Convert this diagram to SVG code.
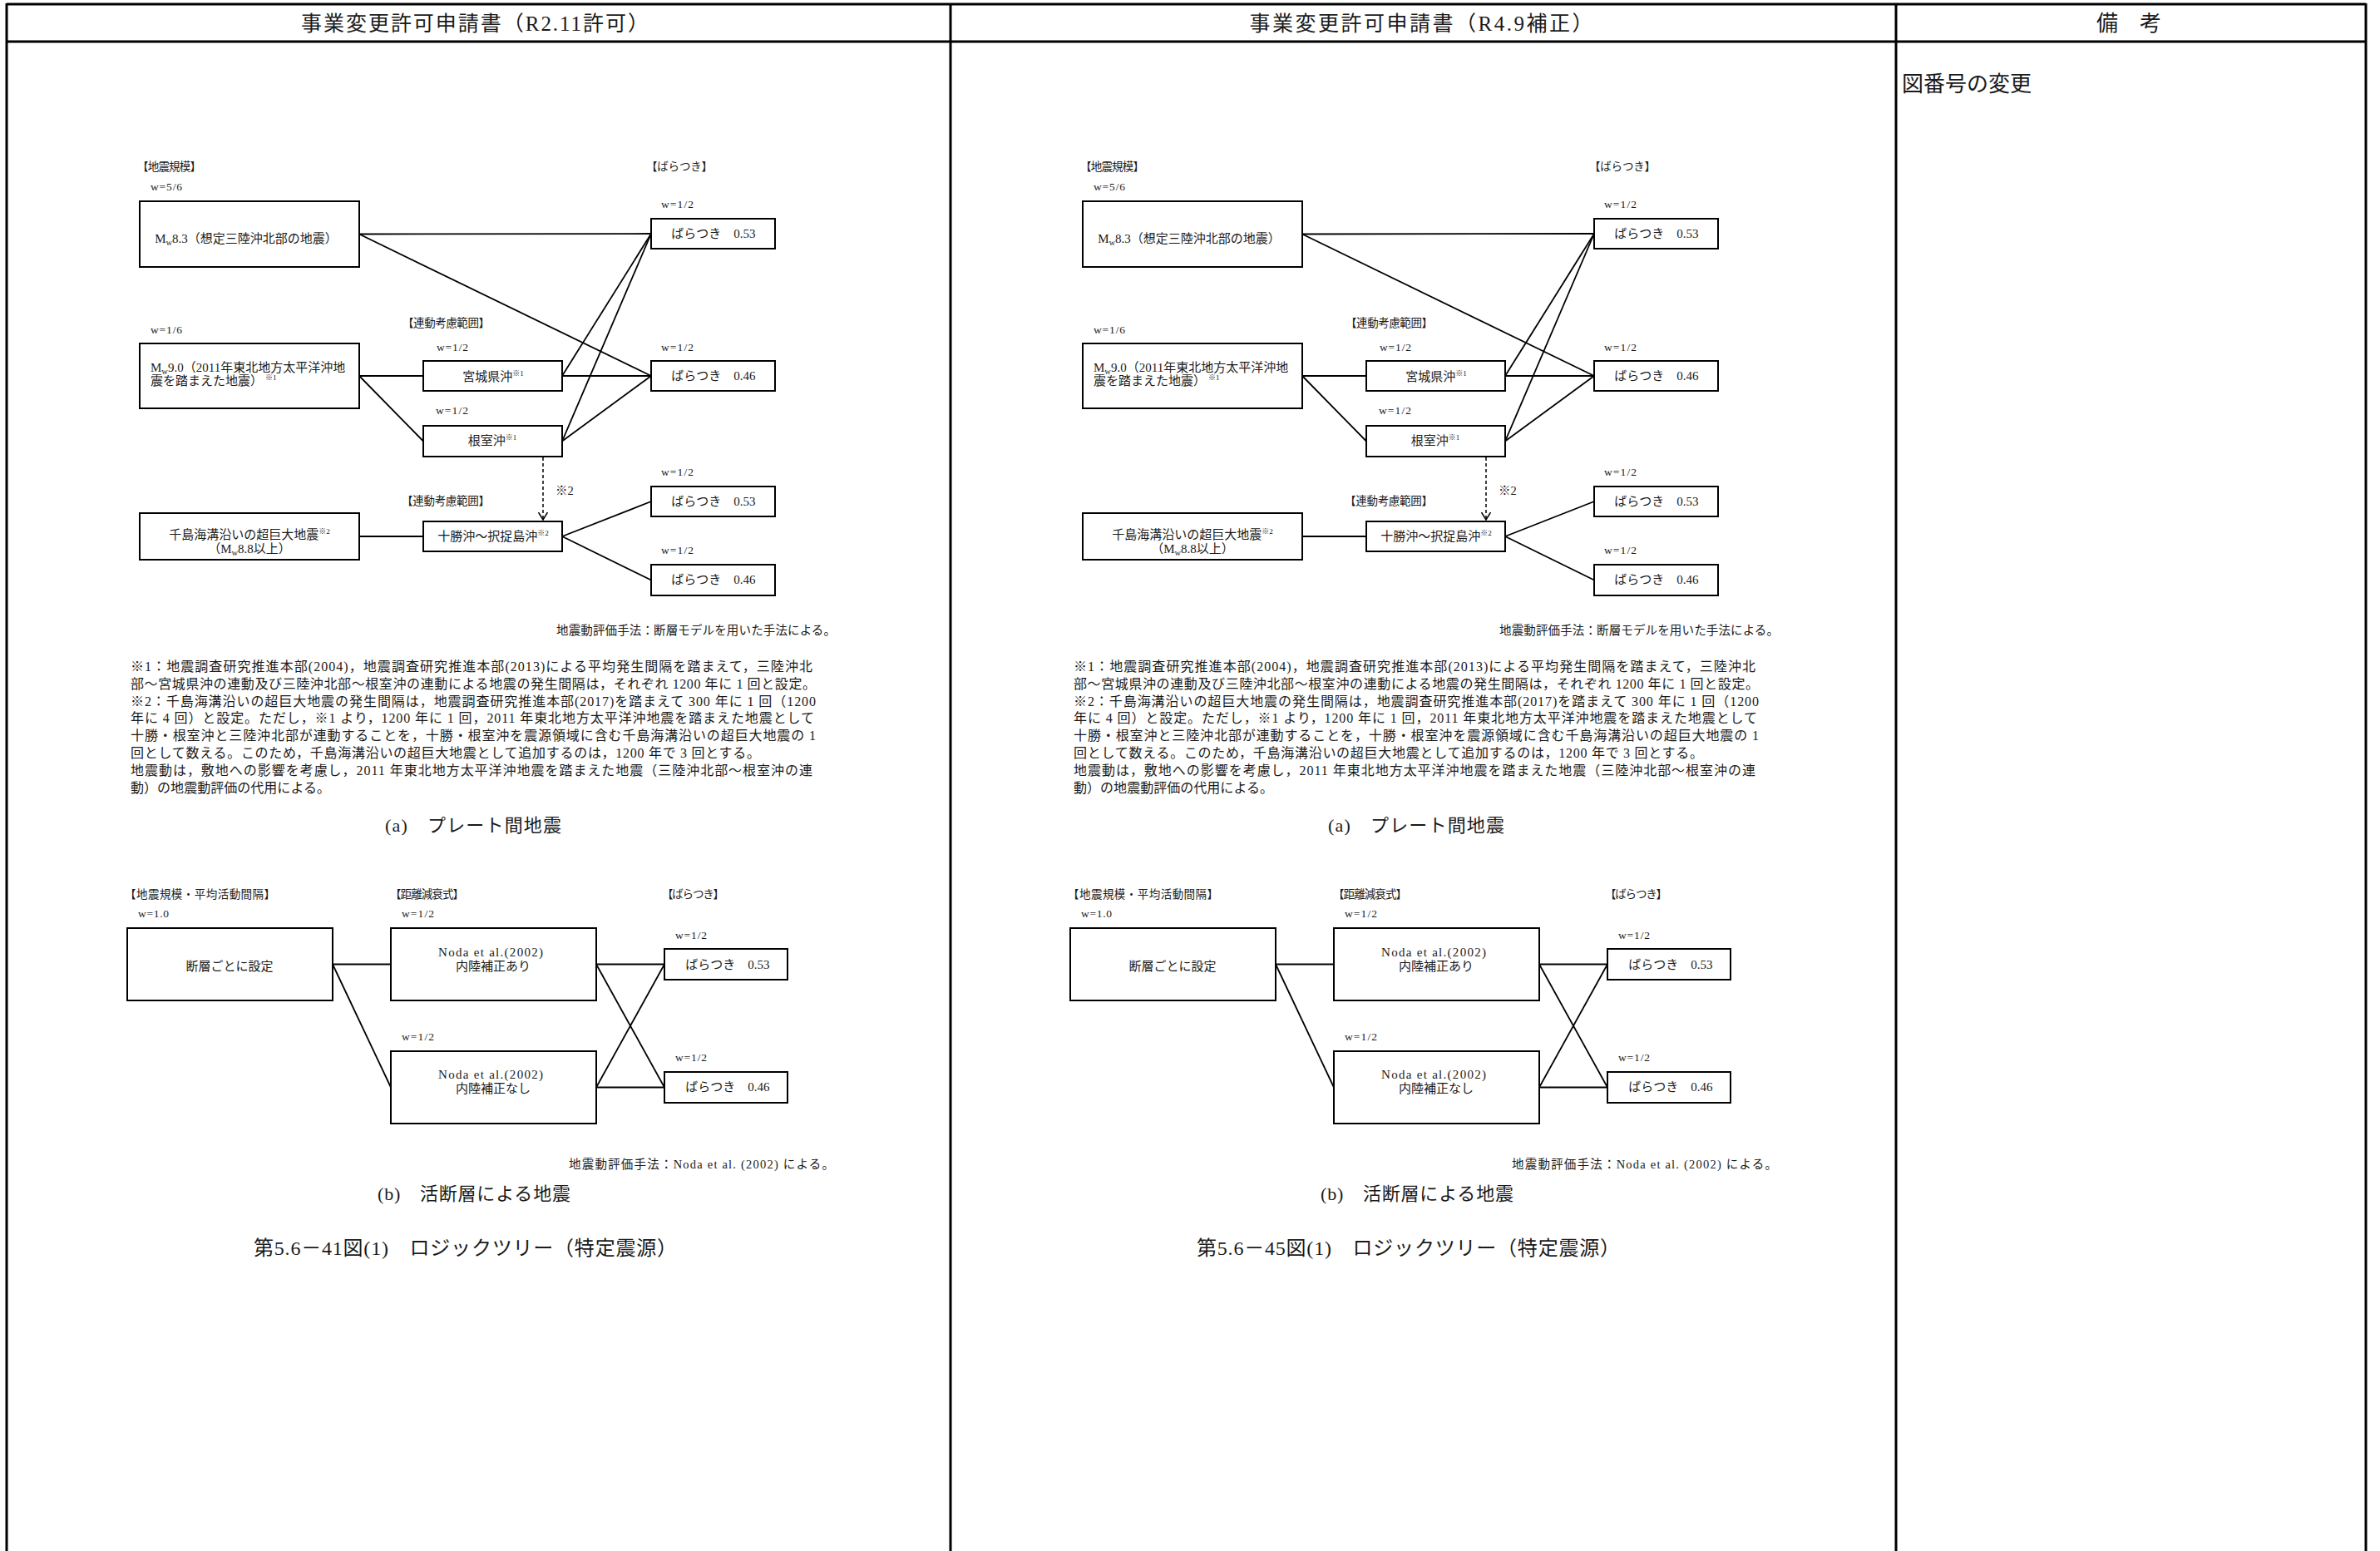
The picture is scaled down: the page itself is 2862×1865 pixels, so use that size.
<svg xmlns="http://www.w3.org/2000/svg" width="2862" height="1865" viewBox="0 0 2862 1865">
<style>
.t{font-family:"Liberation Serif","Noto Sans CJK JP",serif;fill:#1a1a1a}
.f13{font-size:13.5px}
.f14{font-size:14.5px}
.f15{font-size:15px}
.f16{font-size:16px}
.f22{font-size:22px}
.f24{font-size:24px}
.f25{font-size:25px}
.f26{font-size:26px}
.m{text-anchor:middle}
.sub{font-size:10.5px}
.sup{font-size:9px}
.box{fill:#fff;stroke:#000;stroke-width:2}
.ln{stroke:#000;stroke-width:1.8;fill:none}
.dash{stroke:#000;stroke-width:1.5;fill:none;stroke-dasharray:4 3}
.tbl{stroke:#000;stroke-width:3;fill:none}
</style>
<defs>
<marker id="openArrow" viewBox="0 -7 10 14" refX="9" refY="0" markerWidth="10" markerHeight="14" markerUnits="userSpaceOnUse" orient="auto">
<path d="M0,-5.5 L9,0 L0,5.5" fill="none" stroke="#000" stroke-width="1.5"/>
</marker>
</defs>
<rect width="2862" height="1865" fill="#fff"/>

<g id="table">
<line class="tbl" x1="8" y1="5" x2="2845" y2="5"/>
<line class="tbl" x1="8" y1="50" x2="2845" y2="50"/>
<line class="tbl" x1="8" y1="4" x2="8" y2="1865"/>
<line class="tbl" x1="1143" y1="4" x2="1143" y2="1865"/>
<line class="tbl" x1="2280" y1="4" x2="2280" y2="1865"/>
<line class="tbl" x1="2845" y1="4" x2="2845" y2="1865"/>
<text class="t f25 m" x="571" y="37" textLength="418" lengthAdjust="spacing">事業変更許可申請書（R2.11許可）</text>
<text class="t f25 m" x="1709" y="37" textLength="413" lengthAdjust="spacing">事業変更許可申請書（R4.9補正）</text>
<text class="t f26 m" x="2560" y="37">備　考</text>
<text class="t f26" x="2287" y="110">図番号の変更</text>
</g>

<!-- LEFT PANEL -->
<g id="L-panel">
<g id="L-connectors">
<path class="ln" d="M432,281.5 L783,281"/>
<path class="ln" d="M432,281.5 L783,452"/>
<path class="ln" d="M432,452 L509,452"/>
<path class="ln" d="M432,452 L509,530.5"/>
<path class="ln" d="M676,452 L783,452"/>
<path class="ln" d="M676,452 L783,281"/>
<path class="ln" d="M676,530.5 L783,452"/>
<path class="ln" d="M676,530.5 L783,281"/>
<path class="ln" d="M432,645 L509,645"/>
<path class="ln" d="M676,645 L783,603"/>
<path class="ln" d="M676,645 L783,697.5"/>
<path class="dash" d="M653,550 L653,625" marker-end="url(#openArrow)"/>
<path class="ln" d="M400,1159.5 L470,1159.5"/>
<path class="ln" d="M400,1159.5 L470,1307.5"/>
<path class="ln" d="M717,1159.5 L799,1159.5"/>
<path class="ln" d="M717,1159.5 L799,1307.5"/>
<path class="ln" d="M717,1307.5 L799,1307.5"/>
<path class="ln" d="M717,1307.5 L799,1159.5"/>
</g>
<g id="L-labels-a" class="t f13">
<text x="165" y="205" textLength="77" lengthAdjust="spacing">【地震規模】</text>
<text x="777" y="205" textLength="80" lengthAdjust="spacing">【ばらつき】</text>
<text x="181" y="229" textLength="38" lengthAdjust="spacing">w=5/6</text>
<text x="795" y="250" textLength="39" lengthAdjust="spacing">w=1/2</text>
<text x="484" y="393" textLength="105" lengthAdjust="spacing">【連動考慮範囲】</text>
<text x="181" y="401" textLength="38" lengthAdjust="spacing">w=1/6</text>
<text x="525" y="422" textLength="38" lengthAdjust="spacing">w=1/2</text>
<text x="795" y="422" textLength="39" lengthAdjust="spacing">w=1/2</text>
<text x="524" y="498" textLength="39" lengthAdjust="spacing">w=1/2</text>
<text x="668" y="595" class="f14">※2</text>
<text x="483" y="607" textLength="106" lengthAdjust="spacing">【連動考慮範囲】</text>
<text x="795" y="572" textLength="39" lengthAdjust="spacing">w=1/2</text>
<text x="795" y="666" textLength="39" lengthAdjust="spacing">w=1/2</text>
</g>
<g id="L-n-mw83"><rect class="box" x="168" y="242" width="264" height="79"/><text class="t f15 m" x="296" y="292">M<tspan class="sub" dy="3">w</tspan><tspan dy="-3">8.3（想定三陸沖北部の地震）</tspan></text></g>
<g id="L-n-mw90"><rect class="box" x="168" y="413" width="264" height="78"/><text class="t f15" x="181" y="447">M<tspan class="sub" dy="3">w</tspan><tspan dy="-3">9.0（2011年東北地方太平洋沖地</tspan></text><text class="t f15" x="181" y="463">震を踏まえた地震）<tspan class="sup" dx="3" dy="-6">※1</tspan></text></g>
<g id="L-n-chishima"><rect class="box" x="168" y="617" width="264" height="56"/><text class="t f15 m" x="300" y="648">千島海溝沿いの超巨大地震<tspan class="sup" dy="-6">※2</tspan></text><text class="t f15 m" x="300" y="665">（M<tspan class="sub" dy="3">w</tspan><tspan dy="-3">8.8以上）</tspan></text></g>
<g id="L-n-miyagi"><rect class="box" x="509" y="434" width="167" height="36"/><text class="t f15 m" x="593" y="458">宮城県沖<tspan class="sup" dy="-6">※1</tspan></text></g>
<g id="L-n-nemuro"><rect class="box" x="509" y="512" width="167" height="37"/><text class="t f15 m" x="592" y="535">根室沖<tspan class="sup" dy="-6">※1</tspan></text></g>
<g id="L-n-tokachi"><rect class="box" x="509" y="627" width="167" height="36"/><text class="t f15 m" x="593" y="650">十勝沖〜択捉島沖<tspan class="sup" dy="-6">※2</tspan></text></g>
<g id="L-n-v1"><rect class="box" x="783" y="263" width="149" height="36"/><text class="t f15 m" x="858" y="286">ばらつき　0.53</text></g>
<g id="L-n-v2"><rect class="box" x="783" y="434" width="149" height="36"/><text class="t f15 m" x="858" y="457">ばらつき　0.46</text></g>
<g id="L-n-v3"><rect class="box" x="783" y="585" width="149" height="36"/><text class="t f15 m" x="858" y="608">ばらつき　0.53</text></g>
<g id="L-n-v4"><rect class="box" x="783" y="679" width="149" height="37"/><text class="t f15 m" x="858" y="702">ばらつき　0.46</text></g>
<g id="L-notes-a" class="t">
<text class="f14" x="669" y="763" textLength="336" lengthAdjust="spacing">地震動評価手法：断層モデルを用いた手法による。</text>
<text class="f16" x="157" y="807" textLength="820" lengthAdjust="spacing">※1：地震調査研究推進本部(2004)，地震調査研究推進本部(2013)による平均発生間隔を踏まえて，三陸沖北</text>
<text class="f16" x="157" y="828" textLength="824" lengthAdjust="spacing">部〜宮城県沖の連動及び三陸沖北部〜根室沖の連動による地震の発生間隔は，それぞれ 1200 年に 1 回と設定。</text>
<text class="f16" x="157" y="849" textLength="824" lengthAdjust="spacing">※2：千島海溝沿いの超巨大地震の発生間隔は，地震調査研究推進本部(2017)を踏まえて 300 年に 1 回（1200</text>
<text class="f16" x="157" y="869" textLength="822" lengthAdjust="spacing">年に 4 回）と設定。ただし，※1 より，1200 年に 1 回，2011 年東北地方太平洋沖地震を踏まえた地震として</text>
<text class="f16" x="157" y="890" textLength="824" lengthAdjust="spacing">十勝・根室沖と三陸沖北部が連動することを，十勝・根室沖を震源領域に含む千島海溝沿いの超巨大地震の 1</text>
<text class="f16" x="157" y="911" textLength="757" lengthAdjust="spacing">回として数える。このため，千島海溝沿いの超巨大地震として追加するのは，1200 年で 3 回とする。</text>
<text class="f16" x="157" y="932" textLength="820" lengthAdjust="spacing">地震動は，敷地への影響を考慮し，2011 年東北地方太平洋沖地震を踏まえた地震（三陸沖北部〜根室沖の連</text>
<text class="f16" x="157" y="953" textLength="240" lengthAdjust="spacing">動）の地震動評価の代用による。</text>
<text class="f22" x="463" y="1000" textLength="212" lengthAdjust="spacing">(a)　プレート間地震</text>
</g>
<g id="L-labels-b" class="t f13">
<text x="150" y="1080" textLength="181" lengthAdjust="spacing">【地震規模・平均活動間隔】</text>
<text x="469" y="1080" textLength="89" lengthAdjust="spacing">【距離減衰式】</text>
<text x="796" y="1080" textLength="75" lengthAdjust="spacing">【ばらつき】</text>
<text x="166" y="1103" textLength="37" lengthAdjust="spacing">w=1.0</text>
<text x="483" y="1103" textLength="39" lengthAdjust="spacing">w=1/2</text>
<text x="812" y="1129" textLength="38" lengthAdjust="spacing">w=1/2</text>
<text x="483" y="1251" textLength="39" lengthAdjust="spacing">w=1/2</text>
<text x="812" y="1276" textLength="38" lengthAdjust="spacing">w=1/2</text>
</g>
<g id="L-n-fault"><rect class="box" x="153" y="1116" width="247" height="87"/><text class="t f15 m" x="276" y="1167">断層ごとに設定</text></g>
<g id="L-n-noda1"><rect class="box" x="470" y="1116" width="247" height="87"/><text class="t f15" x="527" y="1150" textLength="126" lengthAdjust="spacing">Noda et al.(2002)</text><text class="t f15 m" x="593" y="1167">内陸補正あり</text></g>
<g id="L-n-noda2"><rect class="box" x="470" y="1264" width="247" height="87"/><text class="t f15" x="527" y="1297" textLength="126" lengthAdjust="spacing">Noda et al.(2002)</text><text class="t f15 m" x="593" y="1314">内陸補正なし</text></g>
<g id="L-n-s1"><rect class="box" x="799" y="1141" width="148" height="37"/><text class="t f15 m" x="875" y="1165">ばらつき　0.53</text></g>
<g id="L-n-s2"><rect class="box" x="799" y="1289" width="148" height="37"/><text class="t f15 m" x="875" y="1312">ばらつき　0.46</text></g>
<g id="L-notes-b" class="t">
<text class="f14" x="684" y="1405" textLength="319" lengthAdjust="spacing">地震動評価手法：Noda et al. (2002) による。</text>
<text class="f22" x="454" y="1443" textLength="232" lengthAdjust="spacing">(b)　活断層による地震</text>
<text class="f24" x="305" y="1509" textLength="509" lengthAdjust="spacing">第5.6－41図(1)　ロジックツリー（特定震源）</text>
</g>
</g>

<!-- RIGHT PANEL -->
<g id="R-panel" transform="translate(1134,0)">
<g id="R-connectors">
<path class="ln" d="M432,281.5 L783,281"/>
<path class="ln" d="M432,281.5 L783,452"/>
<path class="ln" d="M432,452 L509,452"/>
<path class="ln" d="M432,452 L509,530.5"/>
<path class="ln" d="M676,452 L783,452"/>
<path class="ln" d="M676,452 L783,281"/>
<path class="ln" d="M676,530.5 L783,452"/>
<path class="ln" d="M676,530.5 L783,281"/>
<path class="ln" d="M432,645 L509,645"/>
<path class="ln" d="M676,645 L783,603"/>
<path class="ln" d="M676,645 L783,697.5"/>
<path class="dash" d="M653,550 L653,625" marker-end="url(#openArrow)"/>
<path class="ln" d="M400,1159.5 L470,1159.5"/>
<path class="ln" d="M400,1159.5 L470,1307.5"/>
<path class="ln" d="M717,1159.5 L799,1159.5"/>
<path class="ln" d="M717,1159.5 L799,1307.5"/>
<path class="ln" d="M717,1307.5 L799,1307.5"/>
<path class="ln" d="M717,1307.5 L799,1159.5"/>
</g>
<g id="R-labels-a" class="t f13">
<text x="165" y="205" textLength="77" lengthAdjust="spacing">【地震規模】</text>
<text x="777" y="205" textLength="80" lengthAdjust="spacing">【ばらつき】</text>
<text x="181" y="229" textLength="38" lengthAdjust="spacing">w=5/6</text>
<text x="795" y="250" textLength="39" lengthAdjust="spacing">w=1/2</text>
<text x="484" y="393" textLength="105" lengthAdjust="spacing">【連動考慮範囲】</text>
<text x="181" y="401" textLength="38" lengthAdjust="spacing">w=1/6</text>
<text x="525" y="422" textLength="38" lengthAdjust="spacing">w=1/2</text>
<text x="795" y="422" textLength="39" lengthAdjust="spacing">w=1/2</text>
<text x="524" y="498" textLength="39" lengthAdjust="spacing">w=1/2</text>
<text x="668" y="595" class="f14">※2</text>
<text x="483" y="607" textLength="106" lengthAdjust="spacing">【連動考慮範囲】</text>
<text x="795" y="572" textLength="39" lengthAdjust="spacing">w=1/2</text>
<text x="795" y="666" textLength="39" lengthAdjust="spacing">w=1/2</text>
</g>
<g id="R-n-mw83"><rect class="box" x="168" y="242" width="264" height="79"/><text class="t f15 m" x="296" y="292">M<tspan class="sub" dy="3">w</tspan><tspan dy="-3">8.3（想定三陸沖北部の地震）</tspan></text></g>
<g id="R-n-mw90"><rect class="box" x="168" y="413" width="264" height="78"/><text class="t f15" x="181" y="447">M<tspan class="sub" dy="3">w</tspan><tspan dy="-3">9.0（2011年東北地方太平洋沖地</tspan></text><text class="t f15" x="181" y="463">震を踏まえた地震）<tspan class="sup" dx="3" dy="-6">※1</tspan></text></g>
<g id="R-n-chishima"><rect class="box" x="168" y="617" width="264" height="56"/><text class="t f15 m" x="300" y="648">千島海溝沿いの超巨大地震<tspan class="sup" dy="-6">※2</tspan></text><text class="t f15 m" x="300" y="665">（M<tspan class="sub" dy="3">w</tspan><tspan dy="-3">8.8以上）</tspan></text></g>
<g id="R-n-miyagi"><rect class="box" x="509" y="434" width="167" height="36"/><text class="t f15 m" x="593" y="458">宮城県沖<tspan class="sup" dy="-6">※1</tspan></text></g>
<g id="R-n-nemuro"><rect class="box" x="509" y="512" width="167" height="37"/><text class="t f15 m" x="592" y="535">根室沖<tspan class="sup" dy="-6">※1</tspan></text></g>
<g id="R-n-tokachi"><rect class="box" x="509" y="627" width="167" height="36"/><text class="t f15 m" x="593" y="650">十勝沖〜択捉島沖<tspan class="sup" dy="-6">※2</tspan></text></g>
<g id="R-n-v1"><rect class="box" x="783" y="263" width="149" height="36"/><text class="t f15 m" x="858" y="286">ばらつき　0.53</text></g>
<g id="R-n-v2"><rect class="box" x="783" y="434" width="149" height="36"/><text class="t f15 m" x="858" y="457">ばらつき　0.46</text></g>
<g id="R-n-v3"><rect class="box" x="783" y="585" width="149" height="36"/><text class="t f15 m" x="858" y="608">ばらつき　0.53</text></g>
<g id="R-n-v4"><rect class="box" x="783" y="679" width="149" height="37"/><text class="t f15 m" x="858" y="702">ばらつき　0.46</text></g>
<g id="R-notes-a" class="t">
<text class="f14" x="669" y="763" textLength="336" lengthAdjust="spacing">地震動評価手法：断層モデルを用いた手法による。</text>
<text class="f16" x="157" y="807" textLength="820" lengthAdjust="spacing">※1：地震調査研究推進本部(2004)，地震調査研究推進本部(2013)による平均発生間隔を踏まえて，三陸沖北</text>
<text class="f16" x="157" y="828" textLength="824" lengthAdjust="spacing">部〜宮城県沖の連動及び三陸沖北部〜根室沖の連動による地震の発生間隔は，それぞれ 1200 年に 1 回と設定。</text>
<text class="f16" x="157" y="849" textLength="824" lengthAdjust="spacing">※2：千島海溝沿いの超巨大地震の発生間隔は，地震調査研究推進本部(2017)を踏まえて 300 年に 1 回（1200</text>
<text class="f16" x="157" y="869" textLength="822" lengthAdjust="spacing">年に 4 回）と設定。ただし，※1 より，1200 年に 1 回，2011 年東北地方太平洋沖地震を踏まえた地震として</text>
<text class="f16" x="157" y="890" textLength="824" lengthAdjust="spacing">十勝・根室沖と三陸沖北部が連動することを，十勝・根室沖を震源領域に含む千島海溝沿いの超巨大地震の 1</text>
<text class="f16" x="157" y="911" textLength="757" lengthAdjust="spacing">回として数える。このため，千島海溝沿いの超巨大地震として追加するのは，1200 年で 3 回とする。</text>
<text class="f16" x="157" y="932" textLength="820" lengthAdjust="spacing">地震動は，敷地への影響を考慮し，2011 年東北地方太平洋沖地震を踏まえた地震（三陸沖北部〜根室沖の連</text>
<text class="f16" x="157" y="953" textLength="240" lengthAdjust="spacing">動）の地震動評価の代用による。</text>
<text class="f22" x="463" y="1000" textLength="212" lengthAdjust="spacing">(a)　プレート間地震</text>
</g>
<g id="R-labels-b" class="t f13">
<text x="150" y="1080" textLength="181" lengthAdjust="spacing">【地震規模・平均活動間隔】</text>
<text x="469" y="1080" textLength="89" lengthAdjust="spacing">【距離減衰式】</text>
<text x="796" y="1080" textLength="75" lengthAdjust="spacing">【ばらつき】</text>
<text x="166" y="1103" textLength="37" lengthAdjust="spacing">w=1.0</text>
<text x="483" y="1103" textLength="39" lengthAdjust="spacing">w=1/2</text>
<text x="812" y="1129" textLength="38" lengthAdjust="spacing">w=1/2</text>
<text x="483" y="1251" textLength="39" lengthAdjust="spacing">w=1/2</text>
<text x="812" y="1276" textLength="38" lengthAdjust="spacing">w=1/2</text>
</g>
<g id="R-n-fault"><rect class="box" x="153" y="1116" width="247" height="87"/><text class="t f15 m" x="276" y="1167">断層ごとに設定</text></g>
<g id="R-n-noda1"><rect class="box" x="470" y="1116" width="247" height="87"/><text class="t f15" x="527" y="1150" textLength="126" lengthAdjust="spacing">Noda et al.(2002)</text><text class="t f15 m" x="593" y="1167">内陸補正あり</text></g>
<g id="R-n-noda2"><rect class="box" x="470" y="1264" width="247" height="87"/><text class="t f15" x="527" y="1297" textLength="126" lengthAdjust="spacing">Noda et al.(2002)</text><text class="t f15 m" x="593" y="1314">内陸補正なし</text></g>
<g id="R-n-s1"><rect class="box" x="799" y="1141" width="148" height="37"/><text class="t f15 m" x="875" y="1165">ばらつき　0.53</text></g>
<g id="R-n-s2"><rect class="box" x="799" y="1289" width="148" height="37"/><text class="t f15 m" x="875" y="1312">ばらつき　0.46</text></g>
<g id="R-notes-b" class="t">
<text class="f14" x="684" y="1405" textLength="319" lengthAdjust="spacing">地震動評価手法：Noda et al. (2002) による。</text>
<text class="f22" x="454" y="1443" textLength="232" lengthAdjust="spacing">(b)　活断層による地震</text>
<text class="f24" x="305" y="1509" textLength="509" lengthAdjust="spacing">第5.6－45図(1)　ロジックツリー（特定震源）</text>
</g>
</g>
</svg>
